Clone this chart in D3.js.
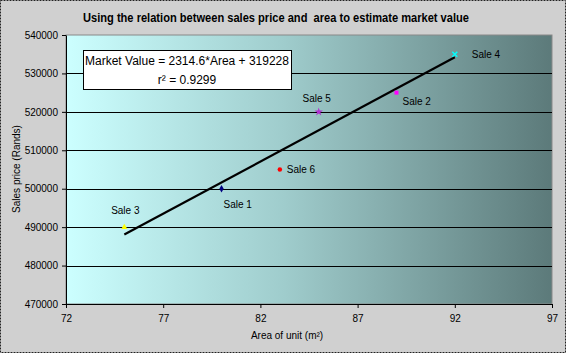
<!DOCTYPE html>
<html><head><meta charset="utf-8">
<script src="https://cdn.jsdelivr.net/npm/d3@7"></script>
<style>body{margin:0;background:#fff}svg{display:block;font-family:"Liberation Sans",Arial,sans-serif}</style>
</head><body><svg id="c" width="566" height="353"></svg>
<script>
const saleNames = ["Sale 1","Sale 2","Sale 3","Sale 4","Sale 5","Sale 6"];
const areas = [80, 89, 75, 92, 85, 83];
const prices = [500000, 525000, 490000, 535000, 520000, 505000];
const xTicks = [72, 77, 82, 87, 92, 97];
const yTicks = [470000, 480000, 490000, 500000, 510000, 520000, 530000, 540000];
const eqText = ["Market Value = 2314.6*Area + 319228", "r² = 0.9299"];

// styling (not data)
const markerColors = ["#000080","#ff00ff","#ffff00","#00ffff","#b030d0","#ff0000"];
const markerShapes = [d3.symbolDiamond, d3.symbolSquare, d3.symbolTriangle, "x", d3.symbolStar, d3.symbolCircle];
const labelOff = [[2,16,"start"],[6,9,"start"],[1,-17,"middle"],[17,0,"start"],[-2,-13,"middle"],[7,0,"start"]];

const svg = d3.select("#c");
const W=566,H=353, L=66, R=552, T=35, B=304;
svg.append("rect").attr("x",0.5).attr("y",0.5).attr("width",W-1).attr("height",H-1)
  .attr("fill","#d0d0d0").attr("stroke","#222").attr("stroke-dasharray","2,1");

const x = d3.scaleLinear().domain([72,97]).range([L,R]);
const y = d3.scaleLinear().domain([470000,540000]).range([B,T]);

const defs = svg.append("defs");
const g = defs.append("linearGradient").attr("id","bg").attr("x1","0").attr("x2","1").attr("y1","0").attr("y2","0");
g.append("stop").attr("offset","0").attr("stop-color","#ccffff");
g.append("stop").attr("offset","0.45").attr("stop-color","#9fcccc");
g.append("stop").attr("offset","1").attr("stop-color","#5c7a7a");
svg.append("rect").attr("x",L).attr("y",T).attr("width",R-L).attr("height",B-T)
  .attr("fill","url(#bg)").attr("stroke","#888").attr("stroke-width",1);

// gridlines
svg.append("g").selectAll("line").data(yTicks.filter(v=>v>470000 && v<540000)).join("line")
  .attr("x1",L).attr("x2",R).attr("y1",d=>Math.round(y(d))+0.5).attr("y2",d=>Math.round(y(d))+0.5)
  .attr("stroke","#000").attr("stroke-width",1);

// axes
const xAxis = svg.append("g").attr("transform",`translate(0,${B})`)
  .call(d3.axisBottom(x).tickValues(xTicks).tickSize(4).tickSizeOuter(0).tickFormat(d3.format("d")));
const yAxis = svg.append("g").attr("transform",`translate(${L},0)`)
  .call(d3.axisLeft(y).tickValues(yTicks).tickSize(4).tickSizeOuter(0).tickFormat(d3.format("d")));
[xAxis,yAxis].forEach(a=>{a.selectAll("text").attr("font-size",10).attr("fill","#000").attr("font-family","Liberation Sans, Arial, sans-serif");
  a.selectAll("line,path").attr("stroke","#000");});
xAxis.selectAll("text").attr("dy","1.1em");
yAxis.selectAll("text").attr("dx","-1");

// trendline (least squares fit of the points)
const mx = d3.mean(areas), my = d3.mean(prices);
const slope = d3.sum(areas.map((a,i)=>(a-mx)*(prices[i]-my))) / d3.sum(areas.map(a=>(a-mx)**2));
const icpt = my - slope*mx;
const [x0,x1] = d3.extent(areas);
svg.append("line").attr("x1",x(x0)).attr("y1",y(slope*x0+icpt)).attr("x2",x(x1)).attr("y2",y(slope*x1+icpt))
  .attr("stroke","#000").attr("stroke-width",2.2);

// points
const pts = svg.append("g");
areas.forEach((a,i)=>{
  const px=x(a), py=y(prices[i]);
  if(markerShapes[i]==="x"){
    pts.append("path").attr("d",`M${px-2.5},${py-2.5}L${px+2.5},${py+2.5}M${px-2.5},${py+2.5}L${px+2.5},${py-2.5}`)
      .attr("stroke",markerColors[i]).attr("stroke-width",1.5);
  } else {
    pts.append("path").attr("d",d3.symbol().type(markerShapes[i]).size(i===4?22:16)()).attr("transform",`translate(${px},${py})`)
      .attr("fill",markerColors[i]);
  }
  svg.append("text").attr("x",px+labelOff[i][0]).attr("y",py+labelOff[i][1]).attr("dy","0.35em")
    .attr("text-anchor",labelOff[i][2]).attr("font-size",10).text(saleNames[i]);
});

// equation box
svg.append("rect").attr("x",83.5).attr("y",50.5).attr("width",208).attr("height",39).attr("fill","#fff").attr("stroke","#000");
svg.append("text").attr("x",187).attr("y",65).attr("text-anchor","middle").attr("font-size",12).text(eqText[0]);
svg.append("text").attr("x",187).attr("y",84).attr("text-anchor","middle").attr("font-size",12).text(eqText[1]);

// titles
svg.append("text").attr("x",276).attr("y",22).attr("text-anchor","middle").attr("font-size",13).attr("font-weight","bold")
  .attr("textLength",386).attr("lengthAdjust","spacingAndGlyphs")
  .text("Using the relation between sales price and  area to estimate market value").style("white-space","pre");
svg.append("text").attr("x",287).attr("y",339).attr("text-anchor","middle").attr("font-size",10).text("Area of unit (m²)");
svg.append("text").attr("transform","translate(20,169) rotate(-90)").attr("text-anchor","middle").attr("font-size",10).text("Sales price (Rands)");
</script></body></html>
